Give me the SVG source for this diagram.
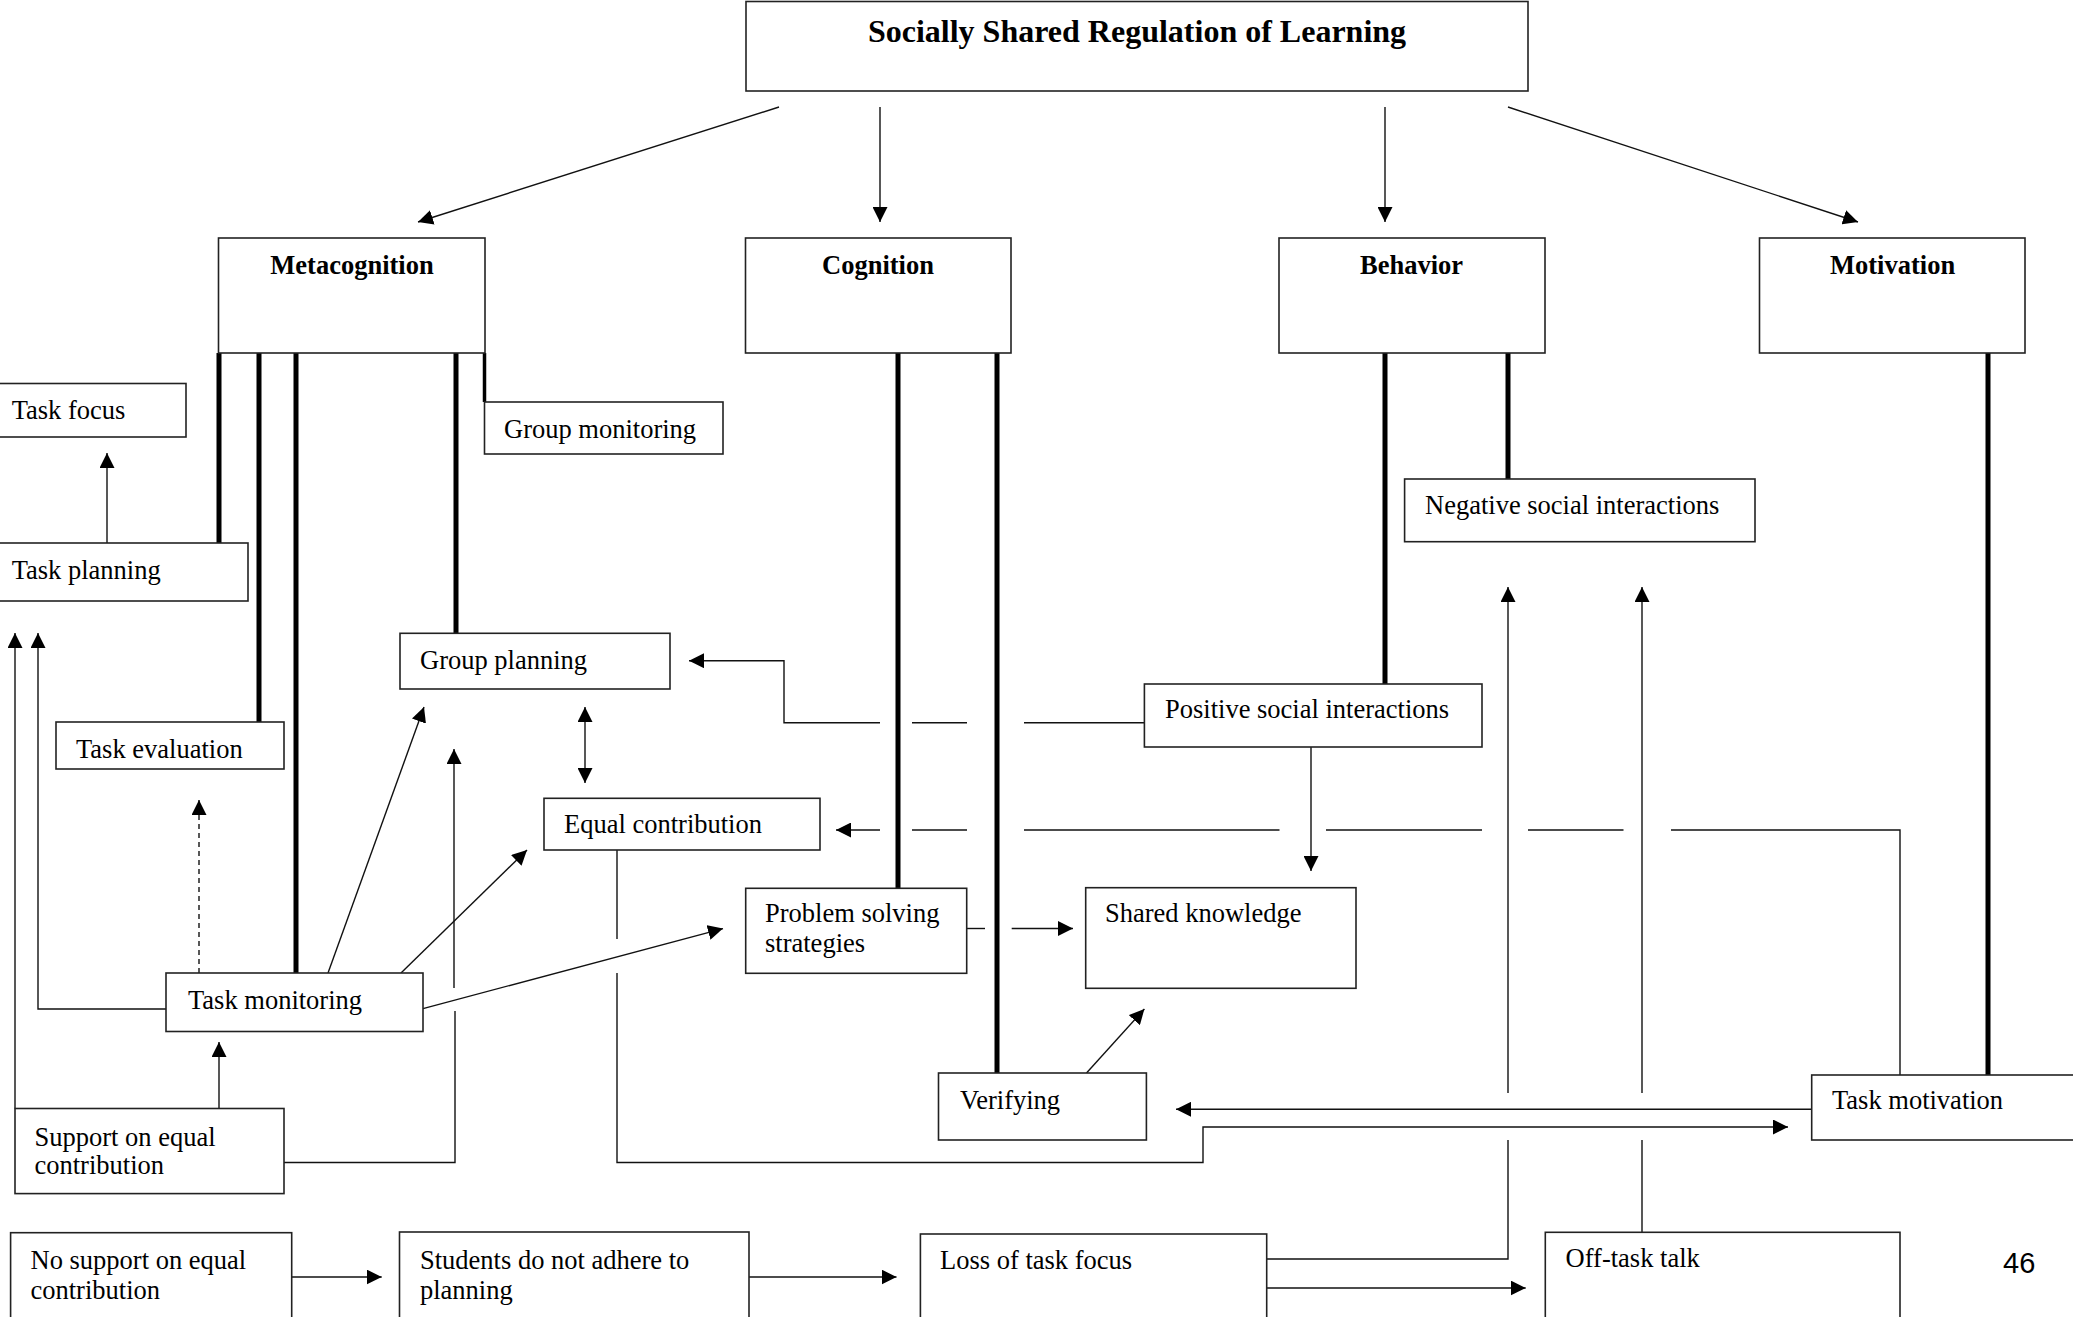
<svg xmlns="http://www.w3.org/2000/svg" width="2073" height="1317" viewBox="0 0 2073 1317">
<style>
rect{fill:#fff;stroke:#222;stroke-width:1.6}
text{font-family:"Liberation Serif","Times New Roman",serif;font-size:26.5px;fill:#000}
.b{font-weight:bold}
.t{font-size:32px;font-weight:bold;text-anchor:middle}
.c{text-anchor:middle}
.ln{fill:none;stroke:#111;stroke-width:1.4}
.a{marker-end:url(#ah)}
.th{fill:none;stroke:#000;stroke-width:5}
.d{stroke-dasharray:5 4}
</style>
<defs>
<marker id="ah" viewBox="0 0 15 15" refX="15" refY="7.5" markerWidth="15" markerHeight="15" markerUnits="userSpaceOnUse" orient="auto-start-reverse">
<path d="M0,0 L15,7.5 L0,15 Z" fill="#000"/>
</marker>
</defs>
<rect x="0" y="0" width="2073" height="1317" style="stroke:none"/>
<g id="connectors">
<line class="ln a" x1="779" y1="107" x2="418" y2="222"/>
<line class="ln a" x1="880" y1="107" x2="880" y2="222"/>
<line class="ln a" x1="1385" y1="107" x2="1385" y2="222"/>
<line class="ln a" x1="1508" y1="107" x2="1858" y2="222"/>
<line class="th" x1="219" y1="353" x2="219" y2="543"/>
<line class="th" x1="259" y1="353" x2="259" y2="722"/>
<line class="th" x1="296" y1="353" x2="296" y2="973"/>
<line class="th" x1="456" y1="353" x2="456" y2="633"/>
<line class="th" style="stroke-width:3.5" x1="484.5" y1="353" x2="484.5" y2="402"/>
<line class="th" x1="898" y1="353" x2="898" y2="888"/>
<line class="th" x1="997" y1="353" x2="997" y2="1073"/>
<line class="th" x1="1385" y1="353" x2="1385" y2="686"/>
<line class="th" x1="1508" y1="353" x2="1508" y2="479"/>
<line class="th" x1="1988" y1="353" x2="1988" y2="1075"/>
<line class="ln a" x1="107" y1="543" x2="107" y2="453"/>
<line class="ln a" x1="15" y1="1108.5" x2="15" y2="633"/>
<polyline class="ln a" points="166,1009 38,1009 38,633"/>
<line class="ln a d" x1="199" y1="973" x2="199" y2="800"/>
<line class="ln a" x1="219" y1="1108.5" x2="219" y2="1042"/>
<polyline class="ln" points="284,1162.5 455,1162.5 455,1011"/>
<line class="ln a" x1="454" y1="988" x2="454" y2="749"/>
<line class="ln a" x1="328" y1="973" x2="424" y2="707"/>
<line class="ln a" x1="401" y1="973" x2="527" y2="850"/>
<line class="ln a" x1="423" y1="1008.6" x2="723" y2="928.6"/>
<line class="ln a" style="marker-start:url(#ah)" x1="585" y1="707" x2="585" y2="783"/>
<line class="ln" x1="617" y1="850" x2="617" y2="939"/>
<polyline class="ln a" points="617,973 617,1162.5 1203,1162.5 1203,1127 1788,1127"/>
<polyline class="ln a" points="880,722.7 784,722.7 784,660.7 689,660.7"/>
<line class="ln" x1="912" y1="722.7" x2="967" y2="722.7"/>
<line class="ln" x1="1024" y1="722.7" x2="1144.4" y2="722.7"/>
<line class="ln a" x1="880" y1="830" x2="836" y2="830"/>
<line class="ln" x1="912" y1="830" x2="967" y2="830"/>
<line class="ln" x1="1024" y1="830" x2="1279.5" y2="830"/>
<line class="ln" x1="1326" y1="830" x2="1482" y2="830"/>
<line class="ln" x1="1528" y1="830" x2="1623.5" y2="830"/>
<polyline class="ln" points="1671,830 1900,830 1900,1075"/>
<line class="ln a" x1="1311" y1="747" x2="1311" y2="871"/>
<line class="ln" x1="966.7" y1="928.5" x2="985" y2="928.5"/>
<line class="ln a" x1="1011.7" y1="928.5" x2="1073" y2="928.5"/>
<line class="ln a" x1="1086.5" y1="1073" x2="1144.4" y2="1009"/>
<line class="ln a" x1="1811.7" y1="1109.3" x2="1176" y2="1109.3"/>
<line class="ln a" x1="1508" y1="1093" x2="1508" y2="587"/>
<line class="ln a" x1="1642" y1="1093" x2="1642" y2="587"/>
<polyline class="ln" points="1266.7,1259 1508,1259 1508,1140"/>
<line class="ln" x1="1642" y1="1232.3" x2="1642" y2="1140"/>
<line class="ln a" x1="292" y1="1277" x2="381.7" y2="1277"/>
<line class="ln a" x1="747" y1="1277" x2="896.5" y2="1277"/>
<line class="ln a" x1="1266.7" y1="1288" x2="1525.7" y2="1288"/>
</g>
<g id="title"><rect x="746" y="1.5" width="782" height="89.5"/><text class="t" x="1137" y="42">Socially Shared Regulation of Learning</text></g>
<g id="metacognition"><rect x="218.5" y="238" width="266.5" height="115"/><text class="b c" x="352" y="273.5">Metacognition</text></g>
<g id="cognition"><rect x="745.5" y="238" width="265.5" height="115"/><text class="b c" x="878" y="273.5">Cognition</text></g>
<g id="behavior"><rect x="1279" y="238" width="266" height="115"/><text class="b c" x="1411.6" y="273.5">Behavior</text></g>
<g id="motivation"><rect x="1759.5" y="238" width="265.5" height="115"/><text class="b c" x="1892.6" y="273.5">Motivation</text></g>
<g id="task-focus"><rect x="-2" y="383.5" width="188" height="53.5"/><text x="11.7" y="419">Task focus</text></g>
<g id="group-monitoring"><rect x="484.5" y="402" width="238.5" height="52"/><text x="504" y="438">Group monitoring</text></g>
<g id="task-planning"><rect x="-2" y="543" width="250" height="58"/><text x="11.7" y="578.5">Task planning</text></g>
<g id="negative-social"><rect x="1404.6" y="479" width="350.4" height="62.7"/><text x="1425" y="514">Negative social interactions</text></g>
<g id="group-planning"><rect x="400" y="633.3" width="270" height="55.7"/><text x="420" y="669">Group planning</text></g>
<g id="positive-social"><rect x="1144.4" y="684" width="337.6" height="63"/><text x="1165" y="718">Positive social interactions</text></g>
<g id="task-evaluation"><rect x="56" y="722" width="228" height="47"/><text x="76" y="758">Task evaluation</text></g>
<g id="equal-contribution"><rect x="544" y="798.3" width="276" height="51.7"/><text x="564" y="833">Equal contribution</text></g>
<g id="problem-solving"><rect x="745.7" y="888.3" width="221" height="85"/><text x="765" y="922">Problem solving</text><text x="765" y="952">strategies</text></g>
<g id="shared-knowledge"><rect x="1085.7" y="887.7" width="270.3" height="100.6"/><text x="1105" y="922">Shared knowledge</text></g>
<g id="task-monitoring"><rect x="166" y="973" width="257" height="58.5"/><text x="188" y="1009">Task monitoring</text></g>
<g id="verifying"><rect x="938.5" y="1073" width="207.9" height="67"/><text x="960" y="1109">Verifying</text></g>
<g id="task-motivation"><rect x="1811.7" y="1075" width="280" height="65"/><text x="1832" y="1109">Task motivation</text></g>
<g id="support"><rect x="15" y="1108.5" width="269" height="85.1"/><text x="34.5" y="1145.5">Support on equal</text><text x="34.5" y="1174">contribution</text></g>
<g id="no-support"><rect x="10.6" y="1232.7" width="281.1" height="100"/><text x="30.5" y="1269">No support on equal</text><text x="30.5" y="1298.5">contribution</text></g>
<g id="students"><rect x="399.5" y="1232" width="349.5" height="100"/><text x="420" y="1269">Students do not adhere to</text><text x="420" y="1298.5">planning</text></g>
<g id="loss"><rect x="920.4" y="1234" width="346.3" height="100"/><text x="940" y="1269">Loss of task focus</text></g>
<g id="off-task"><rect x="1545.3" y="1232.3" width="354.7" height="100"/><text x="1565.6" y="1267">Off-task talk</text></g>
<text x="2003" y="1273" style="font-family:'Liberation Sans',Arial,sans-serif;font-size:29px">46</text>
</svg>
